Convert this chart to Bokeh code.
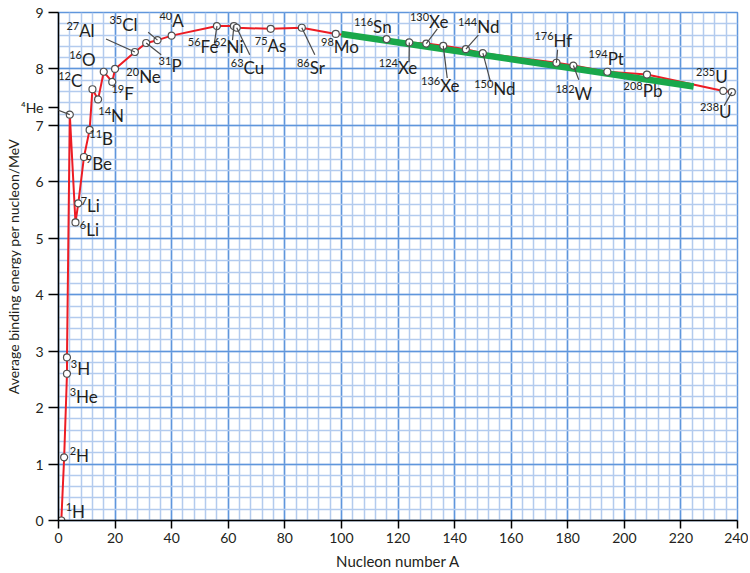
from bokeh.plotting import figure
from bokeh.models import Range1d, FixedTicker, ColumnDataSource, LabelSet, Arrow
from bokeh.core.properties import value
from bokeh.embed import file_html
from bokeh.resources import INLINE

# ---- data -------------------------------------------------------------
mass = [1, 2, 3, 3, 4, 6, 7, 9, 11, 12, 14, 16, 19, 20, 27, 31, 35, 40,
        56, 62, 63, 75, 86, 98, 116, 124, 130, 136, 144, 150, 176, 182,
        194, 208, 235, 238]
symbol = ["H", "H", "He", "H", "He", "Li", "Li", "Be", "B", "C", "N", "O",
          "F", "Ne", "Al", "P", "Cl", "A", "Fe", "Ni", "Cu", "As", "Sr", "Mo",
          "Sn", "Xe", "Xe", "Xe", "Nd", "Nd", "Hf", "W", "Pt", "Pb", "U", "U"]
binding = [0.0, 1.12, 2.60, 2.89, 7.19, 5.28, 5.62, 6.44, 6.92, 7.64, 7.46,
           7.95, 7.77, 8.00, 8.30, 8.46, 8.51, 8.59, 8.76, 8.76, 8.73, 8.71,
           8.73, 8.62, 8.53, 8.47, 8.45, 8.41, 8.35, 8.28, 8.11, 8.06, 7.95,
           7.90, 7.61, 7.59]

# label anchor (boundary between superscript and symbol, text baseline);
# None = label written beside the y axis instead
label_x = [4.8, 6.2, 6.2, 6.6, None, 9.8, 10.1, 11.9, 15.4, 4.4, 18.6, 8.3,
           23.2, 28.5, 7.3, 39.9, 22.5, 40.2, 50.2, 59.4, 65.4, 73.9, 88.8,
           97.3, 111.2, 120.0, 131.0, 134.9, 148.0, 153.7, 175.0, 182.4,
           194.1, 206.5, 232.1, 233.5]
label_y = [0.05, 1.04, 2.09, 2.58, 7.31, 5.04, 5.47, 6.21, 6.65, 7.68, 7.06,
           8.05, 7.45, 7.75, 8.57, 7.95, 8.67, 8.74, 8.28, 8.28, 7.91, 8.30,
           7.91, 8.28, 8.64, 7.91, 8.73, 7.59, 8.64, 7.54, 8.39, 7.45, 8.07,
           7.50, 7.75, 7.13]

leader_iso = ["4He", "27Al", "35Cl", "31P", "56Fe", "62Ni", "63Cu", "86Sr",
              "124Xe", "130Xe", "136Xe", "144Nd", "150Nd", "176Hf", "182W",
              "238U"]
leader_end_x = [-1.8, 16.8, 31.7, 36.3, 55.1, 61.5, 67.6, 90.6, 123.9, 133.9,
                137.4, 148.4, 152.7, 176.4, 183.9, 235.3]
leader_end_y = [7.30, 8.53, 8.65, 8.25, 8.46, 8.51, 8.25, 8.25, 8.12, 8.71,
                7.84, 8.60, 7.77, 8.34, 7.81, 7.35]

trend_A = [100, 224.5]
trend_BE = [8.62, 7.69]

x_ticks = list(range(0, 241, 20))
x_minor = list(range(0, 241, 4))
y_ticks = list(range(0, 10))
y_minor = [i / 5 for i in range(0, 46)]

x_title = "Nucleon number A"
y_title = "Average binding energy per nucleon/MeV"

SUPERSCRIPT = str.maketrans("0123456789", "⁰¹²³⁴⁵⁶⁷⁸⁹")

# ---- style --------------------------------------------------------------
FONT = "Lato"
TXT = "#231f20"
MAJOR = "#5f96dc"
MINOR = "#b3cbee"
SUP_RAISE = 0.12

p = figure(width=748, height=572, x_range=Range1d(0, 240), y_range=Range1d(0, 9),
           output_backend="svg", toolbar_location=None,
           min_border_left=58, min_border_top=12, min_border_right=11,
           min_border_bottom=52)
p.background_fill_color = "white"
p.border_fill_color = "white"
p.outline_line_color = MAJOR
p.outline_line_width = 1.5

xt = FixedTicker(ticks=x_ticks, minor_ticks=x_minor)
yt = FixedTicker(ticks=y_ticks, minor_ticks=y_minor)
p.xgrid.ticker = xt
p.ygrid.ticker = yt
for g in (p.xgrid, p.ygrid):
    g.grid_line_color = MAJOR
    g.grid_line_width = 1.5
    g.minor_grid_line_color = MINOR
    g.minor_grid_line_width = 1.5

# y axis also carries the labels of isotopes that sit left of the axis
side = [i for i in range(len(mass)) if label_x[i] is None]
p.xaxis.ticker = xt
p.yaxis.ticker = FixedTicker(ticks=y_ticks + [label_y[i] for i in side])
p.yaxis.major_label_overrides = {
    label_y[i]: str(mass[i]).translate(SUPERSCRIPT) + symbol[i] for i in side}

for ax in (p.xaxis, p.yaxis):
    ax.axis_line_color = "black"
    ax.axis_line_width = 1.5
    ax.major_tick_line_color = "black"
    ax.major_tick_line_width = 1.5
    ax.major_tick_in = 0
    ax.minor_tick_line_color = None
    ax.major_label_text_font = FONT
    ax.major_label_text_font_size = "14px"
    ax.major_label_text_color = TXT
    ax.axis_label_text_font = FONT
    ax.axis_label_text_font_style = "normal"
    ax.axis_label_text_color = TXT
p.xaxis.major_tick_out = 8
p.yaxis.major_tick_out = 10
p.xaxis.major_label_standoff = 4
p.yaxis.major_label_standoff = 5
p.yaxis.axis_label = y_title
p.yaxis.axis_label_text_font_size = "14px"
p.yaxis.axis_label_standoff = -4
p.xaxis.axis_label = x_title
p.xaxis.axis_label_text_font_size = "15px"
p.xaxis.axis_label_standoff = 6

# ---- marks -------------------------------------------------------------
names = [f"{m}{s}" for m, s in zip(mass, symbol)]
pos = {n: (m, b) for n, m, b in zip(names, mass, binding)}

p.line(mass, binding, line_color="#ed1c24", line_width=2)
p.line(trend_A, trend_BE, line_color="#19a84b", line_width=6.5)

lead_src = ColumnDataSource(dict(
    x0=[pos[n][0] for n in leader_iso], y0=[pos[n][1] for n in leader_iso],
    x1=leader_end_x, y1=leader_end_y))
p.add_layout(Arrow(end=None, x_start="x0", y_start="y0", x_end="x1", y_end="y1",
                   source=lead_src, line_color="#4a4a4a", line_width=1.2))

p.scatter(mass, binding, marker="circle", size=7, fill_color="white",
          line_color="#505050", line_width=1.2)

inside = [i for i in range(len(mass)) if label_x[i] is not None]
lab_src = ColumnDataSource(dict(
    x=[label_x[i] for i in inside], y=[label_y[i] for i in inside],
    ys=[label_y[i] + SUP_RAISE for i in inside],
    sym=[symbol[i] for i in inside], sup=[str(mass[i]) for i in inside]))
p.add_layout(LabelSet(x="x", y="y", text="sym", source=lab_src,
                      text_align="left", text_baseline="alphabetic",
                      text_font=value(FONT), text_font_size="17px",
                      text_color=TXT))
p.add_layout(LabelSet(x="x", y="ys", text="sup", source=lab_src,
                      text_align="right", text_baseline="alphabetic",
                      text_font=value(FONT), text_font_size="11px",
                      text_color=TXT))

open("out.html", "w").write(file_html(p, INLINE))
